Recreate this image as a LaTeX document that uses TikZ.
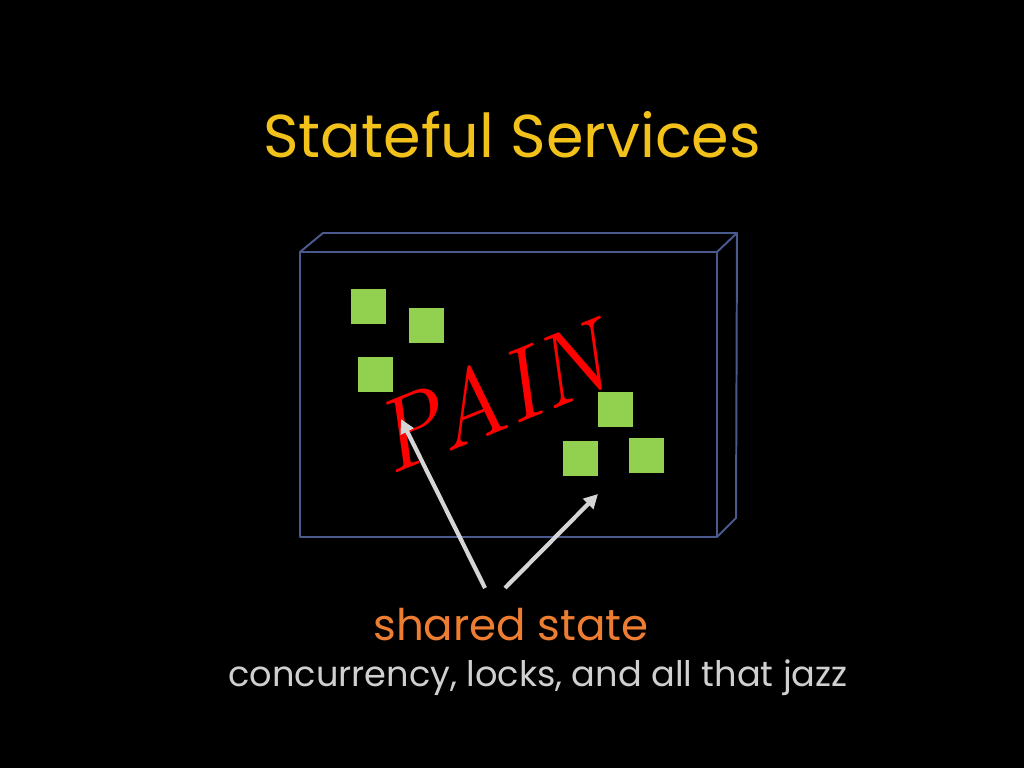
\documentclass[tikz,border=0pt]{standalone}
\usepackage{fontspec}
\setmainfont{Poppins}
\newfontfamily\painfont{Latin Modern Roman}
\definecolor{slide}{HTML}{000000}
\definecolor{titleyellow}{HTML}{F2C21A}
\definecolor{boxblue}{HTML}{4A5A8E}
\definecolor{stategreen}{HTML}{92D050}
\definecolor{sharedorange}{HTML}{ED7D31}
\definecolor{jazzgray}{HTML}{D0D0D0}
\tikzset{
  cell/.style={fill=stategreen, minimum size=24.5pt, inner sep=0pt, anchor=north west},
  pointer/.style={draw=jazzgray!90!white, line width=3pt, -{Triangle[length=10pt,width=10pt]}},
}
\usetikzlibrary{arrows.meta}
\begin{document}
\begin{tikzpicture}[x=0.025cm,y=-0.025cm]
      \fill[slide] (0,0) rectangle (1024,768);
      \useasboundingbox (0,0) rectangle (1024,768);
      \node[anchor=base, text=titleyellow, font=\fontsize{43}{48}\selectfont] (title) at (512,157) {Stateful Services};
      % the box
      \coordinate (fa) at (300,252);
      \coordinate (fb) at (717,252);
      \coordinate (fc) at (717,537);
      \coordinate (fd) at (300,537);
      \coordinate (ba) at (323,233);
      \coordinate (bb) at (737,233);
      \coordinate (bc) at (736,518);
      \begin{scope}[draw=boxblue, line width=1.4pt, line join=round]
        \draw (fa) -- (fb) -- (fc) -- (fd) -- cycle;
        \draw (fa) -- (ba) -- (bb) -- (fb);
        \draw (bb) -- (bc) -- (fc);
      \end{scope}
      % state cells
      \node[cell] (c1) at (351,289) {};
      \node[cell] (c2) at (409,308) {};
      \node[cell] (c3) at (358,357) {};
      \node[cell] (c4) at (598,392) {};
      \node[cell] (c5) at (563,441) {};
      \node[cell] (c6) at (629,438) {};
      \node[text=red, rotate=22, font=\painfont\itshape\fontsize{72}{76}\selectfont] (pain) at (490,396) {PAIN};
      % labels
      \node[anchor=base, text=sharedorange, font=\fontsize{31}{34}\selectfont] (shared) at (511,640) {shared state};
      \node[anchor=base, text=jazzgray, font=\fontsize{25}{28}\selectfont] (jazz) at (538,686) {concurrency, locks, and all that jazz};
      \coordinate (ptip) at (401,419);
      \coordinate (ctip) at (598,494);
      \coordinate (ltail) at (485,588);
      \coordinate (rtail) at (505,588);
      \begin{scope}
        \draw[pointer] (ltail) to (ptip);
        \draw[pointer] (rtail) to (ctip);
      \end{scope}
    \end{tikzpicture}
\end{document}
